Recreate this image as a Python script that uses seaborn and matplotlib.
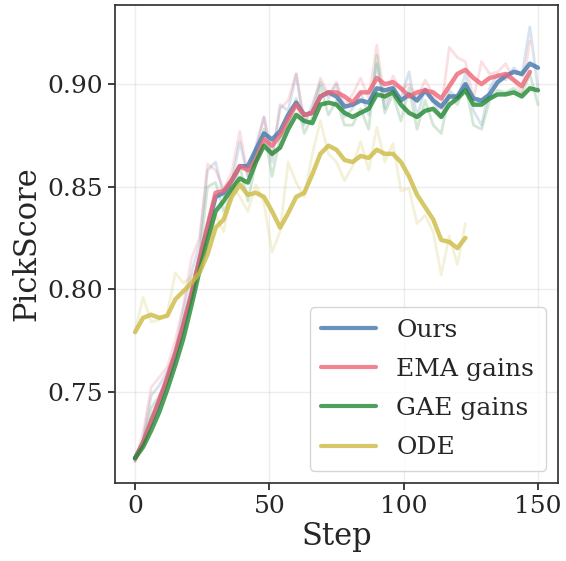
import numpy as np
import pandas as pd
import matplotlib
matplotlib.use("Agg")
import matplotlib.pyplot as plt
import seaborn as sns

# steps (logged every 3 steps)
steps_full = list(range(0, 151, 3))      # Ours, GAE gains
steps_ema = list(range(0, 148, 3))       # EMA gains
steps_ode = list(range(0, 124, 3))       # ODE

# smoothed curves
ours_smooth = [.7175, .725, .735, .745, .756, .768, .782, .797, .814, .830,
               .845, .847, .853, .860, .860, .868, .876, .873, .877, .885,
               .891, .885, .886, .894, .896, .894, .889, .890, .892, .891,
               .898, .897, .898, .892, .895, .892, .897, .892, .889, .894,
               .894, .900, .893, .892, .895, .901, .904, .906, .905, .910, .908]
ema_smooth = [.7175, .725, .736, .746, .757, .769, .783, .798, .815, .831,
              .847, .848, .853, .860, .858, .863, .873, .870, .875, .883,
              .890, .885, .886, .894, .896, .896, .894, .891, .896, .896,
              .903, .900, .901, .898, .894, .896, .897, .896, .893, .899,
              .905, .907, .903, .900, .903, .904, .905, .902, .899, .906]
gae_smooth = [.7175, .723, .731, .740, .751, .763, .776, .792, .809, .824,
              .838, .843, .849, .854, .852, .862, .870, .866, .869, .878,
              .885, .882, .881, .890, .891, .890, .886, .884, .886, .888,
              .895, .894, .896, .890, .886, .884, .887, .888, .884, .890,
              .893, .897, .890, .890, .893, .895, .895, .896, .894, .898, .897]
ode_smooth = [.779, .786, .7875, .786, .787, .795, .799, .803, .808, .817,
              .830, .834, .845, .851, .846, .847, .845, .838, .830, .837,
              .845, .847, .856, .866, .870, .868, .863, .862, .865, .864,
              .868, .866, .866, .862, .855, .846, .840, .834, .824, .823,
              .820, .825]

# raw (unsmoothed) values, drawn faintly
ours_raw = [.716, .727, .748, .753, .760, .770, .790, .808, .822, .858,
            .862, .845, .852, .872, .855, .870, .884, .862, .890, .887,
            .905, .880, .890, .901, .893, .900, .884, .888, .896, .885,
            .910, .888, .899, .893, .906, .884, .898, .892, .884, .897,
            .893, .905, .887, .880, .898, .905, .902, .908, .904, .928, .898]
ema_raw = [.716, .730, .752, .757, .762, .775, .792, .815, .825, .861,
           .858, .849, .857, .877, .855, .868, .884, .865, .888, .892,
           .905, .882, .888, .903, .895, .901, .890, .895, .903, .893,
           .919, .892, .904, .897, .900, .893, .902, .895, .888, .918,
           .913, .911, .893, .911, .905, .906, .910, .902, .896, .921]
gae_raw = [.716, .726, .742, .748, .755, .765, .785, .800, .815, .850,
           .852, .838, .846, .860, .843, .862, .878, .855, .874, .880,
           .893, .876, .884, .899, .885, .892, .880, .880, .888, .878,
           .914, .886, .895, .882, .898, .878, .892, .880, .876, .895,
           .890, .900, .880, .878, .892, .897, .896, .898, .895, .905, .890]
ode_raw = [.779, .796, .784, .785, .788, .808, .803, .806, .812, .825,
           .836, .828, .851, .845, .838, .851, .842, .818, .828, .862,
           .852, .845, .866, .882, .866, .862, .853, .860, .872, .858,
           .879, .862, .871, .848, .849, .832, .836, .828, .807, .826,
           .812, .832]

methods = ["Ours", "EMA gains", "GAE gains", "ODE"]
colors = ["#4477AA", "#EE6677", "#228833", "#CCBB44"]

parts = []
for m, st, sm, rw in [("Ours", steps_full, ours_smooth, ours_raw),
                      ("EMA gains", steps_ema, ema_smooth, ema_raw),
                      ("GAE gains", steps_full, gae_smooth, gae_raw),
                      ("ODE", steps_ode, ode_smooth, ode_raw)]:
    parts.append(pd.DataFrame({"Step": st, "smooth": sm, "raw": rw, "Method": m}))
df = pd.concat(parts, ignore_index=True)

sns.set_theme(style="ticks")
plt.rcParams["font.family"] = ["DejaVu Serif"]

fig, ax = plt.subplots(figsize=(5.66, 5.61), dpi=100)
fig.subplots_adjust(left=0.203, right=0.986, top=0.991, bottom=0.139)

pal = dict(zip(methods, colors))
sns.lineplot(data=df, x="Step", y="raw", hue="Method", hue_order=methods,
             palette=pal, lw=2, alpha=0.2, legend=False, errorbar=None, ax=ax)
sns.lineplot(data=df, x="Step", y="smooth", hue="Method", hue_order=methods,
             palette=pal, lw=3.2, alpha=0.8, errorbar=None, ax=ax)

ax.grid(True, alpha=0.35)
for sp in ax.spines.values():
    sp.set_visible(True)
    sp.set_color("#333333")
ax.set_xticks([0, 50, 100, 150])
ax.set_yticks([0.75, 0.80, 0.85, 0.90])
ax.tick_params(labelsize=18, length=5)
ax.set_xlabel("Step", fontsize=22, labelpad=2)
ax.set_ylabel("PickScore", fontsize=22)

leg = ax.legend(loc="lower right", fontsize=18, handlelength=2.2,
                labelspacing=0.65, borderpad=0.45)
leg.set_title(None)
for h in leg.get_lines():
    h.set_linewidth(3)

fig.savefig("out.png", dpi=100)
